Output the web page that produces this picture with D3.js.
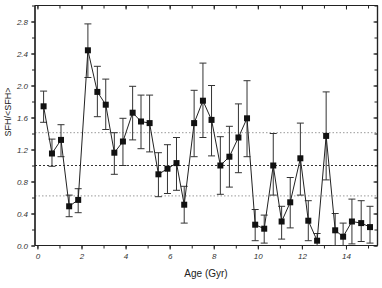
<!DOCTYPE html>
<html><head><meta charset="utf-8">
<script src="https://cdn.jsdelivr.net/npm/d3@7"></script>
<style>body{margin:0;background:#fff}svg{display:block}</style>
</head><body>
<svg id="c" width="382" height="288"></svg>
<script>
const ages = [0.28,0.66,1.07,1.44,1.85,2.29,2.72,3.10,3.49,3.88,4.32,4.70,5.09,5.49,5.90,6.31,6.66,7.11,7.51,7.90,8.30,8.71,9.12,9.51,9.88,10.29,10.70,11.08,11.47,11.93,12.29,12.69,13.10,13.51,13.87,14.27,14.69,15.09];
const sfh = [1.74,1.15,1.32,0.49,0.57,2.44,1.92,1.76,1.16,1.30,1.66,1.55,1.53,0.89,0.96,1.03,0.51,1.53,1.81,1.57,1.00,1.11,1.35,1.59,0.26,0.21,1.00,0.30,0.54,1.09,0.31,0.06,1.37,0.19,0.11,0.30,0.28,0.23];
const errLow = [1.54,0.99,1.11,0.36,0.41,2.10,1.61,1.45,0.89,1.00,1.32,1.21,1.17,0.61,0.65,0.69,0.28,1.11,1.35,1.12,0.64,0.73,0.91,1.11,0.06,0.03,0.63,0.08,0.22,0.63,0.06,0.00,0.82,0.00,0.00,0.02,0.05,0.03];
const errHigh = [1.93,1.33,1.51,0.63,0.71,2.77,2.24,2.08,1.41,1.59,1.99,1.88,1.88,1.16,1.26,1.35,0.74,1.94,2.28,2.00,1.36,1.49,1.77,2.06,0.45,0.38,1.40,0.49,0.85,1.53,0.56,0.15,1.92,0.40,0.28,0.58,0.56,0.49];
const xTicks = [0,2,4,6,8,10,12,14];
const yTicks = [0.0,0.4,0.8,1.2,1.6,2.0,2.4,2.8];
const refLines = [1.0, 1.41, 0.62];

const svg = d3.select("#c");
const L=35, R=377.5, T=5.5, B=245.5;
const x = d3.scaleLinear().domain([-0.11,15.43]).range([L,R]);
const y = d3.scaleLinear().domain([0,3.0]).range([B,T]);
const ink = "#222";

// reference lines
svg.selectAll("line.ref").data(refLines).join("line")
  .attr("x1",L).attr("x2",R).attr("y1",d=>y(d)).attr("y2",d=>y(d))
  .attr("stroke",(d,i)=>i===0?"#333":"#999").attr("stroke-width",1)
  .attr("stroke-dasharray",(d,i)=>i===0?"2,2":"1.5,2");

// axes
const minorX = d3.range(0,16,1);
const minorY = d3.range(0,3.0001,0.2);
const bottom = svg.append("g").attr("transform",`translate(0,${B})`)
  .call(d3.axisBottom(x).tickValues(minorX).tickFormat("").tickSize(3));
const bottomMaj = svg.append("g").attr("transform",`translate(0,${B})`)
  .call(d3.axisBottom(x).tickValues(xTicks).tickFormat(d3.format("d")).tickSize(4).tickPadding(4));
const top_ = svg.append("g").attr("transform",`translate(0,${T})`)
  .call(d3.axisBottom(x).tickValues(minorX).tickFormat("").tickSize(3));
const topMaj = svg.append("g").attr("transform",`translate(0,${T})`)
  .call(d3.axisBottom(x).tickValues(xTicks).tickFormat("").tickSize(4));
const left = svg.append("g").attr("transform",`translate(${L},0)`)
  .call(d3.axisLeft(y).tickValues(minorY).tickFormat("").tickSize(3));
const leftMaj = svg.append("g").attr("transform",`translate(${L},0)`)
  .call(d3.axisLeft(y).tickValues(yTicks).tickFormat(d3.format(".1f")).tickSize(4).tickPadding(3));
const right = svg.append("g").attr("transform",`translate(${R},0)`)
  .call(d3.axisLeft(y).tickValues(minorY).tickFormat("").tickSize(3));
const rightMaj = svg.append("g").attr("transform",`translate(${R},0)`)
  .call(d3.axisLeft(y).tickValues(yTicks).tickFormat("").tickSize(4));
[bottom,bottomMaj,top_,topMaj,left,leftMaj,right,rightMaj].forEach(g=>{
  g.select(".domain").attr("stroke",ink).attr("stroke-width",1.2);
  g.selectAll(".tick line").attr("stroke",ink);
  g.selectAll("text").attr("fill","#333").attr("font-family","Liberation Sans, Arial, sans-serif")
   .attr("font-size",8).attr("font-style","italic");
});
[bottom,bottomMaj,top_,topMaj].forEach(g=>g.select(".domain").attr("d",`M${L},0H${R}`));
[left,leftMaj,right,rightMaj].forEach(g=>g.select(".domain").attr("d",`M0,${T}V${B}`));

// error bars
const eb = svg.append("g").attr("stroke","#333").attr("stroke-width",1);
ages.forEach((a,i)=>{
  const cx = x(a);
  eb.append("line").attr("x1",cx).attr("x2",cx).attr("y1",y(errLow[i])).attr("y2",y(errHigh[i]));
  eb.append("line").attr("x1",cx-3.5).attr("x2",cx+3.5).attr("y1",y(errLow[i])).attr("y2",y(errLow[i]));
  eb.append("line").attr("x1",cx-3.5).attr("x2",cx+3.5).attr("y1",y(errHigh[i])).attr("y2",y(errHigh[i]));
});

// line
const pts = ages.map((a,i)=>[a,sfh[i]]);
svg.append("path").datum(pts)
  .attr("d",d3.line().x(d=>x(d[0])).y(d=>y(d[1])))
  .attr("fill","none").attr("stroke","#222").attr("stroke-width",1);

// markers
svg.selectAll("rect.m").data(pts).join("rect")
  .attr("x",d=>x(d[0])-3).attr("y",d=>y(d[1])-3).attr("width",6).attr("height",6)
  .attr("fill","#111");

// labels
svg.append("text").attr("x",206).attr("y",277).attr("text-anchor","middle")
  .attr("font-family","Liberation Sans, Arial, sans-serif").attr("font-size",10).attr("fill","#222")
  .text("Age (Gyr)");
svg.append("text").attr("transform","translate(11,112) rotate(-90)").attr("text-anchor","middle")
  .attr("font-family","Liberation Sans, Arial, sans-serif").attr("font-size",9).attr("fill","#222")
  .text("SFH/<SFH>");
</script>
</body></html>
